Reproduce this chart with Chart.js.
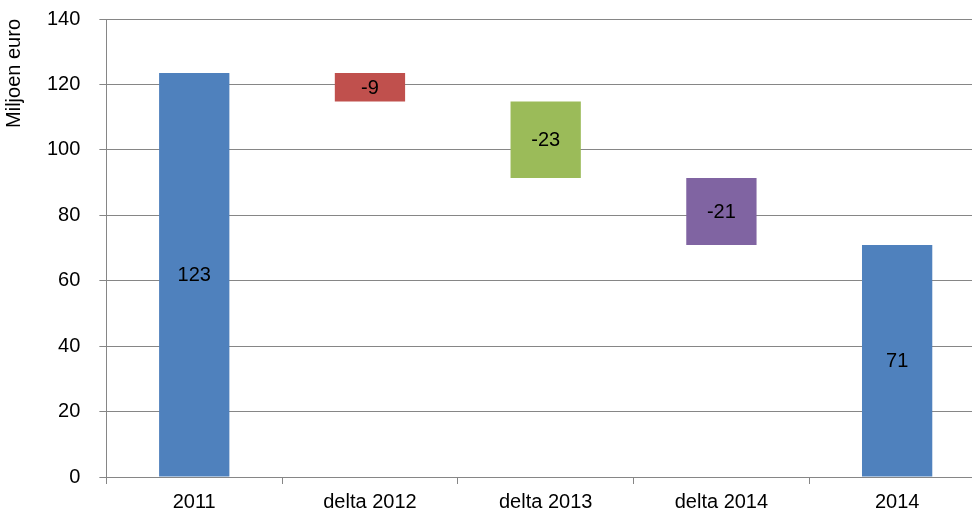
<!DOCTYPE html>
<html>
<head>
<meta charset="utf-8">
<script src="https://cdn.jsdelivr.net/npm/chart.js@4"></script>
<style>
  html, body { margin: 0; padding: 0; background: #fff; overflow: hidden; }
  #wrap { width: 985px; height: 525px; }
</style>
</head>
<body>
<div id="wrap"><canvas id="waterfall"></canvas></div>
<script>
// data
const categories = ['2011', 'delta 2012', 'delta 2013', 'delta 2014', '2014'];
const barStart = [0, 114.8, 91.4, 70.9, 0];
const barEnd = [123.5, 123.5, 114.8, 91.4, 70.9];
const barLabels = ['123', '-9', '-23', '-21', '71'];
const barColors = ['#4F81BD', '#C0504D', '#9BBB59', '#8064A2', '#4F81BD'];

const FONT = '"Liberation Sans", Arial, sans-serif';

// tekst in het midden van elke balk
const barText = {
    id: 'barText',
    afterDatasetsDraw(chart) {
        const ctx = chart.ctx;
        const meta = chart.getDatasetMeta(0);
        ctx.save();
        ctx.font = '20px ' + FONT;
        ctx.fillStyle = '#000';
        ctx.textAlign = 'center';
        ctx.textBaseline = 'middle';
        meta.data.forEach((bar, i) => {
            const y = (bar.y + bar.base) / 2;
            ctx.fillText(barLabels[i], bar.x, y + 1);
        });
        ctx.restore();
    }
};

const ctx = document.getElementById('waterfall').getContext('2d');
new Chart(ctx, {
    type: 'bar',
    data: {
        labels: categories,
        datasets: [{
            data: categories.map((c, i) => [barStart[i], barEnd[i]]),
            backgroundColor: barColors,
            borderWidth: 0,
            categoryPercentage: 1,
            barPercentage: 0.4
        }]
    },
    options: {
        responsive: true,
        maintainAspectRatio: false,
        animation: false,
        layout: { padding: { top: 19, left: 2, right: 0, bottom: 5 } },
        plugins: {
            legend: { display: false },
            tooltip: { enabled: false }
        },
        scales: {
            x: {
                offset: true,
                grid: {
                    offset: true,
                    drawOnChartArea: false,
                    tickLength: 7,
                    color: '#868686',
                    lineWidth: 1
                },
                border: { color: '#868686', width: 1 },
                ticks: {
                    color: '#000',
                    font: { family: FONT, size: 20 },
                    padding: 6,
                    maxRotation: 0
                }
            },
            y: {
                min: 0,
                max: 140,
                // tick padding telt anders mee bovenaan
                afterFit: function(scale) {
                    scale.paddingTop = 0;
                    scale.paddingBottom = 0;
                },
                grid: {
                    color: '#868686',
                    tickLength: 7,
                    lineWidth: 1
                },
                border: { color: '#868686', width: 1 },
                ticks: {
                    stepSize: 20,
                    color: '#000',
                    font: { family: FONT, size: 20 },
                    padding: 19
                },
                title: {
                    display: true,
                    text: 'Miljoen euro',
                    align: 'end',
                    color: '#000',
                    font: { family: FONT, size: 20 },
                    padding: { top: 0, bottom: 2 }
                }
            }
        }
    },
    plugins: [barText]
});
</script>
</body>
</html>
